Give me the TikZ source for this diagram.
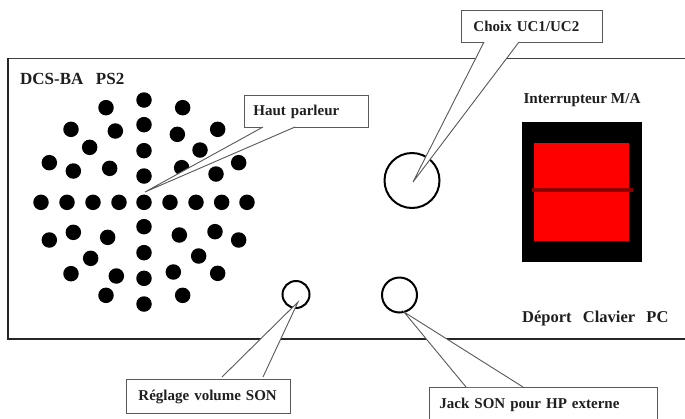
\documentclass[tikz,border=0pt]{standalone}
\usepackage{fontspec}
\setmainfont{Liberation Serif}
\definecolor{linegrey}{gray}{0.35}
\definecolor{inktext}{gray}{0.12}
\definecolor{switchline}{RGB}{140,0,0}
\tikzset{
  dot/.style={circle,fill=black,inner sep=0pt,minimum size=15.5pt},
  knob/.style={circle,draw=black,line width=2pt,inner sep=0pt,fill=none},
  calloutbox/.style={draw=linegrey,line width=0.9pt,fill=white,anchor=north west,inner xsep=10pt,inner ysep=0pt,align=left,text=inktext,font=\bfseries\fontsize{15}{17}\selectfont},
  tailfill/.style={fill=white,draw=none},
  tailline/.style={draw=linegrey,line width=0.9pt},
  paneltext/.style={text=inktext,inner sep=0pt,anchor=west},
}
\begin{document}
\begin{tikzpicture}[x=1pt,y=-1pt]
\useasboundingbox (0,0) rectangle (685,418);
\fill[white] (0,0) rectangle (685,418);
% panel
\coordinate (pTL) at (8,58);
\coordinate (pTR) at (686,58);
\coordinate (pBL) at (8,339);
\coordinate (pBR) at (686,339);
\draw[black!75,line width=0.9pt] (pTL) -- (pTR);
\draw[black!85,line width=1.6pt] (pTL) -- (pBL) -- (pBR);
% speaker dots
\foreach \zx/\zy in {432/150,318/173,548/173,213/238,346/243,432/224,532/253,653/238,269/292,600/300,432/302,148/338,220/363,329/355,432/378,545/353,648/372,716/338,
123/457,201/457,279/457,357/457,432/457,510/457,588/457,665/457,741/457,
220/547,148/570,323/562,432/530,538/555,645/545,716/570,272/625,432/608,596/618,213/671,349/678,432/685,520/666,653/670,318/736,548/736,432/762}
  \node[dot] at ({\zx/3},{50+\zy/3}) {};
% panel labels
\node[paneltext,font=\bfseries\fontsize{17}{19}\selectfont] (model) at (20,79) {DCS-BA\ \ \hspace{4pt}PS2};
\node[paneltext,font=\bfseries\fontsize{15.2}{17}\selectfont,anchor=center] (switchlabel) at (582,100) {Interrupteur M/A};
\node[paneltext,font=\bfseries\fontsize{16.5}{18}\selectfont] (deport) at (522,319) {Déport\ \ \hspace{3pt}Clavier\ \ \hspace{3pt}PC};
% power switch
\node[draw=none,fill=black,minimum width=120pt,minimum height=140pt,inner sep=0pt] (switchbody) at (582,192) {};
\node[fill=red,minimum width=95pt,minimum height=98pt,inner sep=0pt] (switchface) at (581.5,192) {};
\draw[switchline,line width=3.5pt] ([xshift=-2pt]switchface.west |- 0,190) -- ([xshift=4pt]switchface.east |- 0,190);
% knobs
\node[knob,minimum size=55pt] (selector) at (412,180.5) {};
\node[knob,minimum size=27pt] (volume) at (296,294.5) {};
\node[knob,minimum size=35pt] (jack) at (399.5,295) {};
% callouts
\node[calloutbox,minimum width=124pt,minimum height=32pt,inner xsep=9pt,text width=106pt] (haut) at (244,95) {Haut parleur};
\coordinate (hautA) at (263,127);\coordinate (hautB) at (295,127);\coordinate (hautT) at (145,192);
\fill[tailfill] (hautA) -- (hautT) -- (hautB) -- cycle;
\draw[tailline] (hautA) -- (hautT) -- (hautB);
\node[calloutbox,minimum width=141pt,minimum height=32pt,text width=121pt,inner xsep=10pt] (choix) at (461,10) {\hspace{2pt}Choix UC1/UC2};
\coordinate (choixA) at (484,42);\coordinate (choixB) at (519,42);\coordinate (choixT) at (413,182);
\fill[tailfill] (choixA) -- (choixT) -- (choixB) -- cycle;
\draw[tailline] (choixA) -- (choixT) -- (choixB);
\node[calloutbox,minimum width=164pt,minimum height=34pt,text width=144pt,yshift=-1pt] (reglage) at (126,378) {\hspace{2pt}Réglage volume SON};
\coordinate (reglageA) at (222,377);\coordinate (reglageB) at (263,377);\coordinate (reglageT) at (298,302);
\fill[tailfill] (reglageA) -- (reglageT) -- (reglageB) -- cycle;
\draw[tailline] (reglageA) -- (reglageT) -- (reglageB);
\node[calloutbox,minimum width=228pt,minimum height=34pt,text width=208pt] (jackbox) at (429,387) {Jack SON\ pour HP externe};
\coordinate (jackA) at (466,387);\coordinate (jackB) at (523,387);\coordinate (jackT) at (404,312);
\fill[tailfill] (jackA) -- (jackT) -- (jackB) -- cycle;
\draw[tailline] (jackA) -- (jackT) -- (jackB);
\end{tikzpicture}
\end{document}
